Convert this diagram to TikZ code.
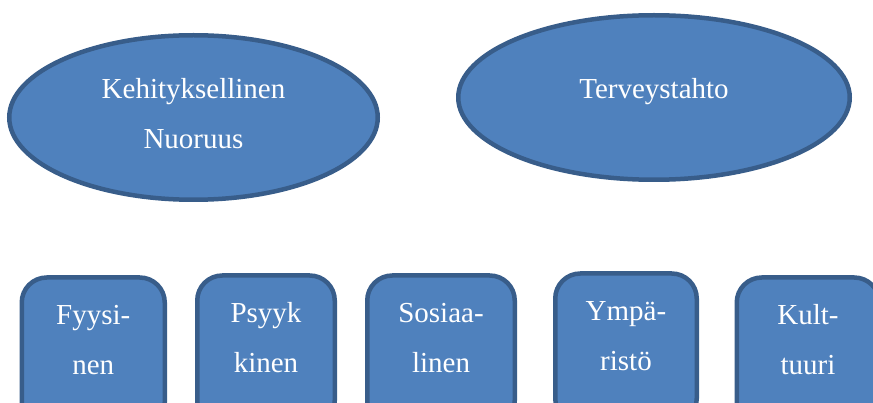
\documentclass[tikz,border=0pt]{standalone}
\usepackage{fontspec}
\setmainfont{Liberation Serif}
\usetikzlibrary{shapes.geometric}
\definecolor{shapefill}{HTML}{4F81BD}
\definecolor{shapeline}{HTML}{385D8A}

\begin{document}
\begin{tikzpicture}[
  x=1pt,y=-1pt,
  shp/.style={draw=shapeline,fill=shapefill,line width=4.5pt,text=white,align=center,
              inner sep=0pt,font=\fontsize{29}{50}\selectfont},
  oval/.style={shp,ellipse,minimum height=164.5pt},
  tile/.style={shp,rounded corners=25pt,anchor=north,minimum height=150pt,
               text height=60pt,text depth=16.5pt}
]
\useasboundingbox (0,0) rectangle (873,403);
\clip (0,0) rectangle (873,403);
% upper ovals
\node[oval,minimum width=368.5pt,text height=75pt,text depth=12pt] (kehit) at (193.5,117.5)
  {Kehityksellinen\\Nuoruus};
\node[oval,minimum width=391.5pt,text height=20pt,text depth=17pt] (terv) at (654,97.5)
  {Terveystahto};
% lower tiles, cut by the bottom edge
\node[tile,minimum width=143pt]   (fyys)  at (93.25,275.25) {Fyysi-\\nen};
\node[tile,minimum width=137.5pt] (psyyk) at (266,273.25)   {Psyyk\\kinen};
\node[tile,minimum width=147.5pt] (sosi)  at (441,273.25)   {Sosiaa-\\linen};
\node[tile,minimum width=141.5pt] (ymp)   at (626,271.25)   {Ympä-\\ristö};
\node[tile,minimum width=142.5pt] (kult)  at (808,275.25)   {Kult-\\tuuri};
\end{tikzpicture}
\end{document}
